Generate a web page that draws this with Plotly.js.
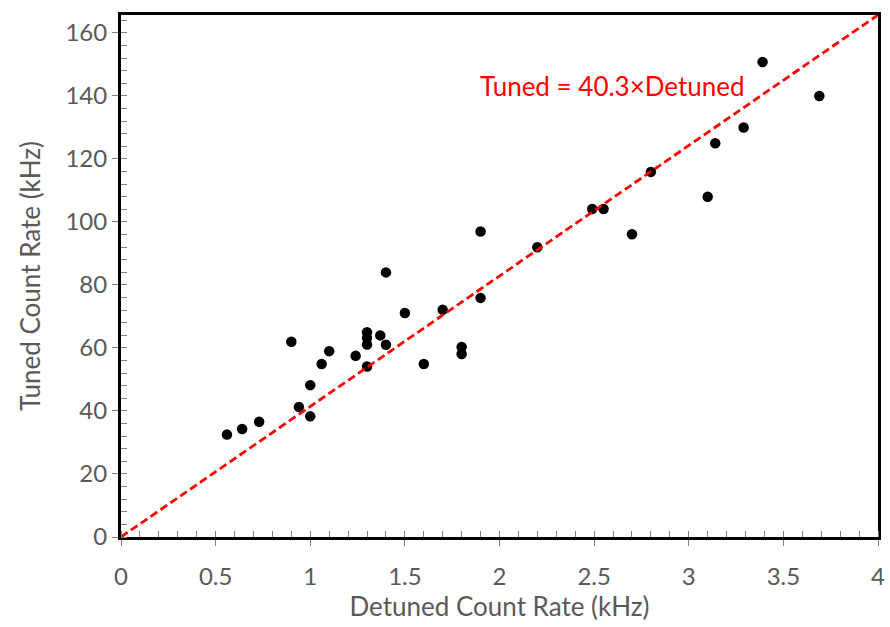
<!DOCTYPE html>
<html>
<head>
<meta charset="utf-8">
<script src="https://cdn.plot.ly/plotly-3.0.1.min.js"></script>
<style>html,body{margin:0;padding:0;background:#fff;}#chart{width:890px;height:627px;}</style>
</head>
<body>
<div id="chart"></div>
<script>
// Measured data (kHz)
const detuned = [0.56, 0.64, 0.73, 0.90, 0.94, 1.00, 1.00, 1.06, 1.10, 1.24, 1.30, 1.30, 1.30, 1.30, 1.37, 1.40, 1.40, 1.50, 1.60, 1.70, 1.80, 1.80, 1.90, 1.90, 2.20, 2.49, 2.55, 2.70, 2.80, 3.10, 3.14, 3.29, 3.39, 3.69];
const tuned   = [32.5, 34.3, 36.6, 62.0, 41.3, 48.2, 38.3, 54.9, 59.0, 57.5, 65.0, 63.2, 61.1, 54.1, 64.0, 61.0, 84.0, 71.1, 54.9, 72.1, 60.3, 58.1, 97.0, 75.9, 92.0, 104.1, 104.1, 96.1, 115.9, 108.0, 125.0, 130.0, 150.8, 140.0];
// Fit line Tuned = 40.3 x Detuned
const fitX = [0, 4];
const fitY = [0, 161.2];
const fitLabel = 'Tuned = 40.3×Detuned';
const xTitle = 'Detuned Count Rate (kHz)';
const yTitle = 'Tuned Count Rate (kHz)';

const font = 'Lato, "Open Sans", sans-serif';
const grey = '#595959';

const traces = [
  {x: fitX, y: fitY, type: 'scatter', mode: 'lines', yaxis: 'y2',
   line: {color: '#ff0000', width: 2.8, dash: '8px,4px'}, hoverinfo: 'skip'},
  {x: detuned, y: tuned, type: 'scatter', mode: 'markers',
   marker: {color: '#000000', size: 10.5}}
];

const axisCommon = {
  showgrid: false, zeroline: false, showline: true, mirror: true,
  linecolor: '#000', linewidth: 3, ticks: 'outside', ticklen: 6, tickcolor: '#7f7f7f', tickwidth: 1,
  tickfont: {family: font, size: 24, color: grey}
};

const layout = {
  width: 890, height: 627,
  margin: {l: 121, r: 12, t: 15, b: 90},
  paper_bgcolor: '#fff', plot_bgcolor: '#fff',
  showlegend: false,
  xaxis: Object.assign({}, axisCommon, {
    range: [0, 4], dtick: 0.5, tick0: 0, ticklabelstandoff: 10,
    minor: {ticks: 'inside', dtick: 0.1, ticklen: 6, tickcolor: '#7f7f7f', tickwidth: 1},
    title: {text: xTitle, font: {family: font, size: 26, color: grey}, standoff: 10}
  }),
  yaxis: Object.assign({}, axisCommon, {
    range: [0, 165.7], dtick: 20, tick0: 0,
    minor: {ticks: 'inside', dtick: 4, ticklen: 6, tickcolor: '#7f7f7f', tickwidth: 1},
    title: {text: yTitle, font: {family: font, size: 26, color: grey}, standoff: 18}
  }),
  yaxis2: {overlaying: 'y', range: [0, 161.2], visible: false, showgrid: false, zeroline: false},
  annotations: [{
    x: 1.885, y: 143.2, xref: 'x', yref: 'y', xanchor: 'left', yanchor: 'middle',
    text: fitLabel, showarrow: false,
    font: {family: font, size: 26, color: '#ff0000'}
  }]
};

Plotly.newPlot('chart', traces, layout, {displayModeBar: false, staticPlot: true});
</script>
</body>
</html>
